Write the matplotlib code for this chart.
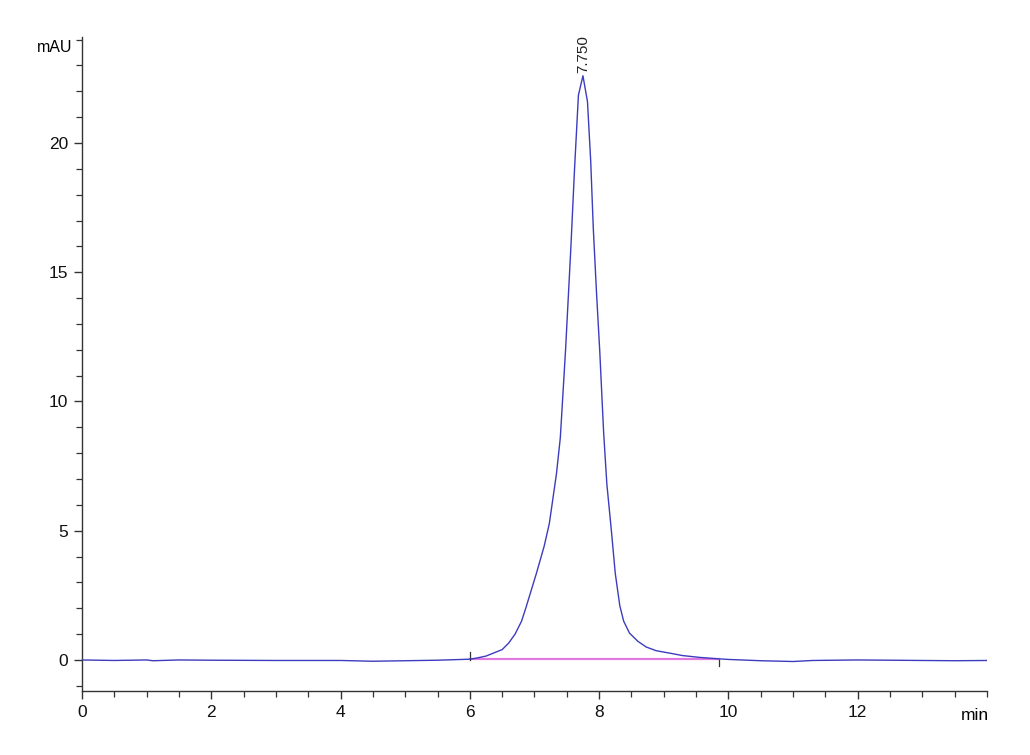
import numpy as np
import matplotlib.pyplot as plt

plt.rcParams['font.family'] = ['Liberation Sans', 'DejaVu Sans']

# Chromatogram trace (time in min, signal in mAU)
time_min = [0.0, 0.5, 1.0, 1.1, 1.5, 2.0, 3.0, 4.0, 4.5, 5.0, 5.5, 6.0,
            6.1, 6.25, 6.5, 6.6, 6.7, 6.8, 6.87, 7.03, 7.15, 7.23, 7.34, 7.40,
            7.48, 7.56, 7.62, 7.68, 7.75, 7.82, 7.87, 7.91, 7.96, 8.01,
            8.07, 8.12, 8.19, 8.25, 8.32, 8.38, 8.47, 8.6, 8.73, 8.88, 9.1,
            9.29, 9.55, 9.81, 10.0, 10.5, 11.0, 11.3, 12.0, 12.5, 13.0, 13.5,
            14.0]
signal_mau = [0.0, -0.02, 0.0, -0.03, 0.0, -0.01, -0.02, -0.02, -0.05, -0.03,
              -0.01, 0.03, 0.07, 0.15, 0.4, 0.65, 1.0, 1.5, 2.04, 3.35, 4.4,
              5.28, 7.2, 8.6, 11.95, 15.8, 19.0, 21.85, 22.6, 21.6, 19.3,
              16.7, 14.2, 11.95, 8.8, 6.8, 5.0, 3.35, 2.1, 1.5, 1.04, 0.72,
              0.5, 0.36, 0.26, 0.17, 0.1, 0.05, 0.02, -0.03, -0.06, -0.02,
              0.0, -0.01, -0.02, -0.03, -0.02]

# integration baseline and peak annotation
baseline_t = [6.0, 9.85]
baseline_y = [0.02, 0.02]
peak_rt = 7.750
peak_height = 22.6

fig = plt.figure(figsize=(10.3, 7.55), dpi=100)
ax = fig.add_axes([0.0796, 0.0848, 0.8786, 0.8662])

ax.plot(time_min, signal_mau, color='#3c3cbe', lw=1.0, zorder=3)
ax.plot(baseline_t, baseline_y, color='#e07ae0', lw=1.6, zorder=2)

# integration start / end markers
ax.plot([baseline_t[0], baseline_t[0]], [0.0, 0.3], color='#333333', lw=0.9)
ax.plot([baseline_t[1], baseline_t[1]], [0.0, -0.25], color='#333333', lw=0.9)

ax.text(peak_rt, peak_height + 0.1, f"{peak_rt:.3f}", rotation=90,
        ha='center', va='bottom', fontsize=11, color='#222222')

ax.set_xlim(0, 14)
ax.set_ylim(-1.2, 24.1)

ax.set_xticks([0, 2, 4, 6, 8, 10, 12])
ax.set_xticks(np.arange(0, 14.01, 0.5), minor=True)
ax.set_yticks([0, 5, 10, 15, 20])
ax.set_yticks(np.arange(-1, 24.01, 1), minor=True)

ax.spines['top'].set_visible(False)
ax.spines['right'].set_visible(False)
for s in ['left', 'bottom']:
    ax.spines[s].set_color('#333333')
    ax.spines[s].set_linewidth(1.0)

ax.tick_params(which='major', length=6, width=1.0, color='#333333',
               labelsize=12.5, labelcolor='#111111', pad=4)
ax.tick_params(which='minor', length=4, width=0.9, color='#333333')

fig.text(55 / 1030, 1 - 47 / 755, 'mAU', ha='center', va='center', fontsize=11.5)
fig.text(975 / 1030, 1 - 715 / 755, 'min', ha='center', va='center', fontsize=12.5)

fig.savefig('out.png', dpi=100)
